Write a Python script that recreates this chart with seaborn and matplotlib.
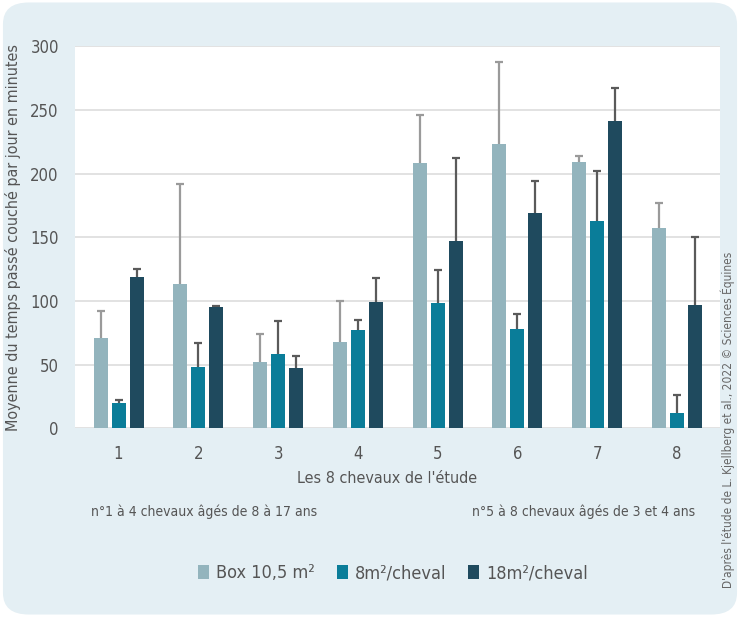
import matplotlib
matplotlib.use("Agg")
import matplotlib.pyplot as plt
import seaborn as sns
import pandas as pd
from matplotlib.patches import FancyBboxPatch, Patch

horses = ["1", "2", "3", "4", "5", "6", "7", "8"]
series = ["Box 10,5 m²", "8m²/cheval", "18m²/cheval"]
box_vals = [71, 113, 52, 68, 208, 223, 209, 157]
box_err_top = [92, 192, 74, 100, 246, 288, 214, 177]
m8_vals = [20, 48, 58, 77, 98, 78, 163, 12]
m8_err_top = [22, 67, 84, 85, 124, 90, 202, 26]
m18_vals = [119, 95, 47, 99, 147, 169, 241, 97]
m18_err_top = [125, 96, 57, 118, 212, 194, 267, 150]
colors = ["#93b4bd", "#0a7d99", "#1f4a5e"]
err_colors = ["#9a9a9a", "#5a5a5a", "#5a5a5a"]

sns.set_theme(style="white")
plt.rcParams["font.family"] = ["DejaVu Sans"]
plt.rcParams["font.stretch"] = "condensed"
txt = "#555555"

rows = []
for s, vals in zip(series, [box_vals, m8_vals, m18_vals]):
    for h, v in zip(horses, vals):
        rows.append({"horse": h, "series": s, "value": v})
df = pd.DataFrame(rows)

fig = plt.figure(figsize=(7.4, 6.17), dpi=100, facecolor="white")
bg = FancyBboxPatch((0.004, 0.004), 0.992, 0.992, boxstyle="round,pad=0,rounding_size=0.035",
                    transform=fig.transFigure, facecolor="#e4eff4", edgecolor="none", zorder=-10)
fig.patches.append(bg)

ax = fig.add_axes([0.102, 0.306, 0.871, 0.619])
ax.set_facecolor("white")
sns.barplot(data=df, x="horse", y="value", hue="series", palette=colors, width=0.675,
            gap=0.22, errorbar=None, ax=ax, legend=False, zorder=3, saturation=1,
            linewidth=0, edgecolor="none")

tops = [box_err_top, m8_err_top, m18_err_top]
bar_conts = list(ax.containers)
for i, cont in enumerate(bar_conts):
    xs = [p.get_x() + p.get_width() / 2 for p in cont.patches]
    hs = [p.get_height() for p in cont.patches]
    up = [t - h for t, h in zip(tops[i], hs)]
    eb = ax.errorbar(xs, hs, yerr=[[0] * len(hs), up], fmt="none", ecolor=err_colors[i],
                     elinewidth=1.6, capsize=3, capthick=1.6, zorder=2)
    eb[1][0].set_visible(False)

ax.set_ylim(0, 300)
ax.set_xlim(-0.54, 7.54)
ax.set_yticks(range(0, 301, 50))
ax.yaxis.grid(True, color="#dddddd", linewidth=1.2, zorder=0)
ax.set_axisbelow(True)
for sp in ax.spines.values():
    sp.set_visible(False)
ax.tick_params(axis="both", length=0, labelsize=12, colors=txt, pad=12)
ax.tick_params(axis="x", pad=12)
ax.set_xlabel("Les 8 chevaux de l'étude", fontsize=11.5, color=txt)
ax.xaxis.set_label_coords(0.483, -0.112)
ax.set_ylabel("Moyenne du temps passé couché par jour en minutes", fontsize=11.5, color=txt)
ax.yaxis.set_label_coords(-0.085, 0.5)

fig.text(204 / 740, 1 - 512 / 617, "n°1 à 4 chevaux âgés de 8 à 17 ans", ha="center", va="center",
         fontsize=10, color=txt)
fig.text(584 / 740, 1 - 512 / 617, "n°5 à 8 chevaux âgés de 3 et 4 ans", ha="center", va="center",
         fontsize=10, color=txt)

handles = [Patch(facecolor=c, edgecolor="none") for c in colors]
fig.legend(handles, series, loc="center", bbox_to_anchor=(393 / 740, 1 - 573 / 617), ncol=3,
           frameon=False, fontsize=13, labelcolor=txt, handlelength=0.6, handleheight=0.8,
           handletextpad=0.4, columnspacing=1.2)

fig.text(728 / 740, 1 - 420 / 617, "D'après l'étude de L. Kjellberg et al., 2022 © Sciences Équines",
         rotation=90, ha="center", va="center", fontsize=8.6, color="#666666")

fig.savefig("out.png", dpi=100, facecolor=fig.get_facecolor())
